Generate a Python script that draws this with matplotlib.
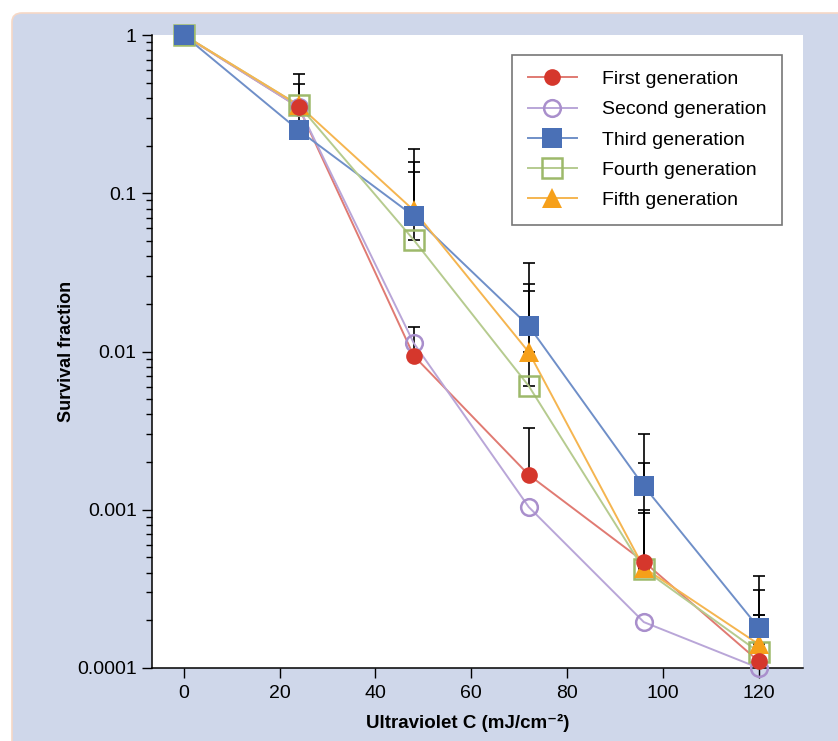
import numpy as np
import matplotlib
matplotlib.use('Agg')
import matplotlib.pyplot as plt
from matplotlib.patches import FancyBboxPatch
from matplotlib.ticker import LogLocator, NullFormatter, FixedLocator, FixedFormatter

plt.rcParams['font.family'] = ['Liberation Sans', 'DejaVu Sans']

# UV-C dose (mJ/cm^-2)
dose = [0, 24, 48, 72, 96, 120]

# survival fractions
first = [1.0, 0.35, 0.0094, 0.00166, 0.00047, 0.00011]
second = [1.0, 0.35, 0.0113, 0.00104, 0.000195, 0.0001]
third = [1.0, 0.25, 0.0718, 0.0145, 0.00141, 0.000179]
fourth = [1.0, 0.36, 0.0507, 0.00605, 0.00042, 0.000126]
fifth = [1.0, 0.36, 0.078, 0.0099, 0.00043, 0.000141]

# top of the (upper-only) error bars, nan = no visible bar
first_top = [np.nan, 0.567, 0.0143, 0.00329, 0.00197, 0.000216]
second_top = [np.nan, np.nan, np.nan, np.nan, np.nan, np.nan]
third_top = [np.nan, 0.49, 0.19, 0.036, 0.0030, 0.00038]
fourth_top = [np.nan, np.nan, 0.136, 0.0241, 0.00096, 0.000216]
fifth_top = [np.nan, np.nan, 0.157, 0.0267, 0.00100, 0.00031]

labels = ['First generation', 'Second generation', 'Third generation',
          'Fourth generation', 'Fifth generation']

W, H = 838, 741
fig = plt.figure(figsize=(W / 100, H / 100), dpi=100, facecolor='white')

# light blue panel with rounded corner
panel = FancyBboxPatch((12 / W, -0.05), (W + 40) / W, (H - 13) / H + 0.05,
                       boxstyle='round,pad=0,rounding_size=0.012',
                       transform=fig.transFigure, facecolor='#cfd7ea',
                       edgecolor='#f6d8c6', lw=1.2, zorder=-5)
fig.patches.append(panel)

ax = fig.add_axes([152 / W, 1 - 668 / H, (803 - 152) / W, (668 - 35) / H])
ax.set_facecolor('white')

# values, error tops, marker colour, line colour, marker, filled, size, marker zorder
series = [
    (first, first_top, '#d5372c', '#e07a72', 'o', True, 12, 4.4),
    (second, second_top, '#a98fcc', '#b9a6d8', 'o', False, 12, 4.0),
    (third, third_top, '#4a70b6', '#6f8fc8', 's', True, 14, 4.5),
    (fourth, fourth_top, '#9db96a', '#b6cb8f', 's', False, 14, 4.1),
    (fifth, fifth_top, '#f6a01a', '#f5b550', '^', True, 14, 4.2),
]

# error bars first so markers sit on top
for vals, tops, mc, lc, mk, filled, ms, zo in series:
    v = np.array(vals)
    t = np.array(tops)
    up = np.where(np.isnan(t), 0, t - v)
    mask = ~np.isnan(t)
    if mask.sum() == 0:
        continue
    ax.errorbar(np.array(dose)[mask], v[mask], yerr=[np.zeros(mask.sum()), up[mask]],
                fmt='none', ecolor='black', elinewidth=1.2, capsize=4, capthick=1.2,
                zorder=2, clip_on=False)

for vals, tops, mc, lc, mk, filled, ms, zo in series:
    ax.plot(dose, vals, color=lc, lw=1.4, zorder=3, clip_on=False)
    ax.plot(dose, vals, linestyle='none', marker=mk, markersize=ms,
            markerfacecolor=mc if filled else 'none', markeredgecolor=mc,
            markeredgewidth=0 if filled else 1.8, zorder=zo, clip_on=False)

# legend proxies
handles = []
for vals, tops, mc, lc, mk, filled, ms, zo in series:
    h, = ax.plot([], [], color=lc, lw=1.4, marker=mk, markersize=ms,
                 markerfacecolor=mc if filled else 'none', markeredgecolor=mc,
                 markeredgewidth=0 if filled else 1.8)
    handles.append(h)
leg = ax.legend(handles, labels, loc='upper left',
                bbox_to_anchor=((512 - 152) / (803 - 152), 1 - (55 - 35) / (668 - 35)),
                fontsize=14, frameon=True, fancybox=False, edgecolor='#555555',
                handlelength=2.55, handletextpad=1.3, labelspacing=0.65,
                borderpad=0.8, borderaxespad=0)
leg.get_frame().set_linewidth(1.2)
leg.set_zorder(10)

ax.set_yscale('log')
ax.set_ylim(1e-4, 1)
ax.set_xlim(-6.6, 129.2)

ax.yaxis.set_major_locator(FixedLocator([1e-4, 1e-3, 1e-2, 1e-1, 1]))
ax.yaxis.set_major_formatter(FixedFormatter(['0.0001', '0.001', '0.01', '0.1', '1']))
ax.yaxis.set_minor_locator(LogLocator(base=10, subs=np.arange(2, 10), numticks=20))
ax.yaxis.set_minor_formatter(NullFormatter())
ax.set_xticks([0, 20, 40, 60, 80, 100, 120])

for s in ['top', 'right']:
    ax.spines[s].set_visible(False)
for s in ['left', 'bottom']:
    ax.spines[s].set_linewidth(1.1)

ax.tick_params(axis='y', which='major', length=7, width=1, labelsize=14, pad=4)
ax.tick_params(axis='y', which='minor', length=4, width=1)
ax.tick_params(axis='x', length=7, width=1, labelsize=14, pad=5)

ax.set_xlabel('Ultraviolet C (mJ/cm\u207b\u00b2)', fontsize=13.5, fontweight='bold', labelpad=6)
ax.xaxis.set_label_coords(0.485, -0.072)
ax.set_ylabel('Survival fraction', fontsize=13, fontweight='bold')
ax.yaxis.set_label_coords(-0.118, 0.5)

fig.savefig('out.png', dpi=100, facecolor=fig.get_facecolor())
